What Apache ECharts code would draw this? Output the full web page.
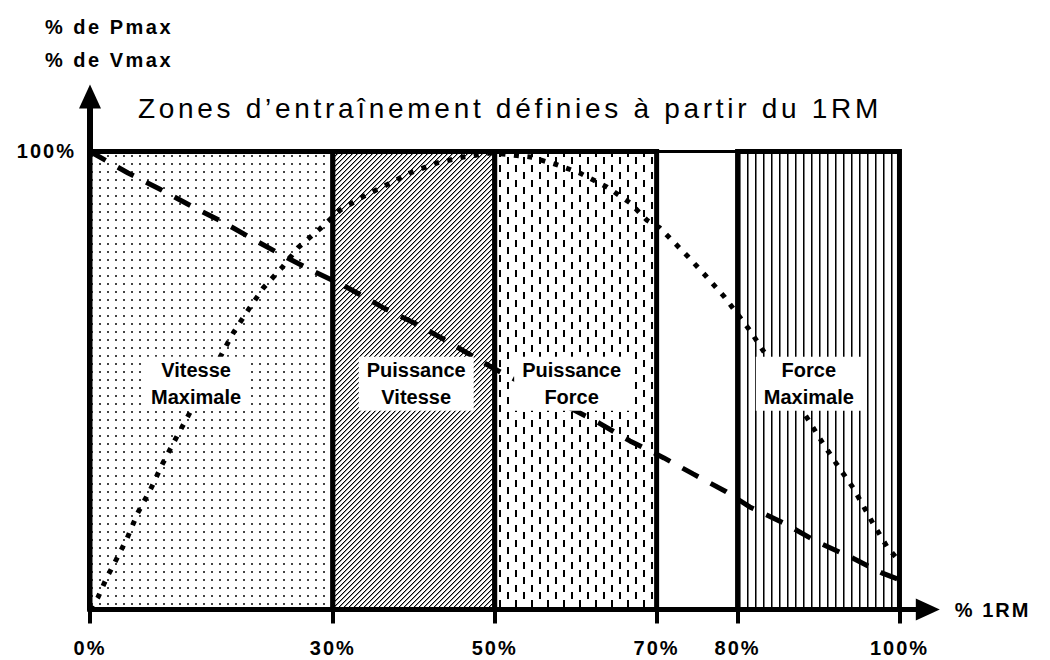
<!DOCTYPE html>
<html>
<head>
<meta charset="utf-8">
<script src="https://cdn.jsdelivr.net/npm/echarts@6/dist/echarts.min.js"></script>
<style>
html,body{margin:0;padding:0;background:#fff;}
#chart{width:1050px;height:660px;}
</style>
</head>
<body>
<div id="chart"></div>
<script>
// ---------- data ----------
const xTickValues = [0, 30, 50, 70, 80, 100];
const yTickValues = [100];
const zoneStart = [0, 30, 50, 80];
const zoneEnd = [30, 50, 70, 100];
const zoneTop = 100;
const zoneLabels = ['Vitesse\nMaximale', 'Puissance\nVitesse', 'Puissance\nForce', 'Force\nMaximale'];
const labelX = [13.1, 40.3, 59.5, 88.8];
const labelY = [49.3, 49.3, 49.3, 49.3];

// % de Vmax (dashed curve)
const velocityX = [0, 4.7, 8.6, 12.7, 16.4, 20.1, 24.1, 28.0, 31.9, 36.1, 40.0, 43.6, 50.0, 62.9, 66.7, 70.9, 74.5, 78.6, 81.5, 86.1, 89.9, 93.9, 97.8, 100];
const velocityY = [100, 95.3, 91.8, 87.9, 84.6, 80.9, 77.0, 73.5, 70.2, 66.0, 62.6, 59.1, 52.5, 40.7, 36.8, 33.1, 29.6, 25.7, 22.4, 18.5, 14.7, 11.5, 8.0, 6.5];

// % de Pmax (dotted curve)
const powerX = [0, 1.0, 2.1, 3.1, 4.6, 5.9, 7.5, 8.9, 10.5, 12.1, 16.9, 17.7, 19.4, 21.4, 23.7, 25.7, 28.4, 30.9, 33.7, 37.1, 39.5, 42.9, 46.1, 49.7, 54.4, 57.7, 60.5, 63.9, 66.7, 68.8, 70.4, 73.9, 76.2, 78.4, 81.5, 88.6, 90.5, 92.3, 94.3, 96.7, 98.5, 100];
const powerY = [0, 2.7, 7.1, 10.4, 15.6, 21.1, 26.3, 31.6, 37.0, 42.2, 57.8, 60.4, 65.0, 70.2, 74.6, 79.0, 83.1, 87.2, 90.1, 93.1, 95.3, 97.5, 98.8, 99.7, 98.8, 97.1, 95.3, 92.2, 88.8, 85.0, 83.3, 77.0, 72.6, 68.2, 61.0, 41.8, 36.4, 31.6, 26.5, 18.9, 13.6, 10.5];

// ---------- fill patterns ----------
function makeTile(w, h, draw) {
  const c = document.createElement('canvas');
  c.width = w; c.height = h;
  const ctx = c.getContext('2d');
  ctx.fillStyle = '#fff'; ctx.fillRect(0, 0, w, h);
  draw(ctx);
  return c;
}
const dotTile = makeTile(8, 8, ctx => {
  ctx.fillStyle = '#444'; ctx.fillRect(3, 3, 2, 2);
});
const hatchTile = makeTile(5, 5, ctx => {
  for (let i = 0; i < 5; i++) for (let j = 0; j < 5; j++) {
    const k = (i + j) % 5;
    if (k === 0) { ctx.fillStyle = '#000'; ctx.fillRect(i, j, 1, 1); }
    else if (k === 1) { ctx.fillStyle = '#999'; ctx.fillRect(i, j, 1, 1); }
  }
});
const dashTile = makeTile(16, 15, ctx => {
  ctx.fillStyle = '#000';
  ctx.fillRect(3, 0, 2, 7);
  ctx.fillRect(11, 7, 2, 7);
});
const lineTile = makeTile(8, 4, ctx => {
  ctx.fillStyle = '#000'; ctx.fillRect(3, 0, 1, 4);
  ctx.fillStyle = '#777'; ctx.fillRect(4, 0, 1, 4);
});
const zonePatterns = [dotTile, hatchTile, dashTile, lineTile];

// ---------- chart ----------
const chart = echarts.init(document.getElementById('chart'), null, { renderer: 'svg' });
const FONT = 'Liberation Sans, Arial, sans-serif';

const option = {
  animation: false,
  backgroundColor: '#fff',
  title: [
    {
      text: 'Zones d\u2019entra\u00eenement d\u00e9finies \u00e0 partir du 1RM',
      left: 133, top: 89,
      textStyle: { fontFamily: FONT, fontWeight: 'normal', fontSize: 28, color: '#000' }
    },
    {
      text: '% de Pmax\n% de Vmax',
      left: 40, top: 5,
      textStyle: { fontFamily: FONT, fontWeight: 'bold', fontSize: 20, lineHeight: 33, color: '#000' }
    }
  ],
  grid: { left: 90, right: 122.2, top: 96.5, bottom: 50.5, outerBoundsMode: 'none' },
  xAxis: {
    type: 'value', min: 0, max: 103.5,
    name: '% 1RM', nameLocation: 'end', nameGap: 27,
    nameTextStyle: { fontFamily: FONT, fontWeight: 'bold', fontSize: 20, color: '#000' },
    axisLine: { show: true, symbol: ['none', 'triangle'], symbolSize: [22, 24], lineStyle: { color: '#000', width: 5 } },
    axisTick: { show: true, customValues: xTickValues, length: 14, lineStyle: { color: '#000', width: 4 } },
    axisLabel: { customValues: xTickValues, formatter: v => v + '%', margin: 28, fontFamily: FONT, fontWeight: 'bold', fontSize: 20, color: '#000' },
    splitLine: { show: false }
  },
  yAxis: {
    type: 'value', min: 0, max: 112,
    axisLine: { show: true, symbol: ['none', 'triangle'], symbolSize: [22, 24], lineStyle: { color: '#000', width: 6 } },
    axisTick: { show: false },
    axisLabel: { customValues: yTickValues, formatter: v => v + '%', margin: 14, fontFamily: FONT, fontWeight: 'bold', fontSize: 20, color: '#000' },
    splitLine: { show: false }
  },
  series: [
    {
      type: 'custom',
      z: 1,
      silent: true,
      data: zoneStart.map((s, i) => [s, zoneEnd[i], zoneTop, i]),
      renderItem: (params, api) => {
        const p0 = api.coord([api.value(0), 0]);
        const p1 = api.coord([api.value(1), api.value(2)]);
        return {
          type: 'rect',
          shape: { x: p0[0], y: p1[1], width: p1[0] - p0[0], height: p0[1] - p1[1] },
          style: {
            fill: { image: zonePatterns[api.value(3)], repeat: 'repeat' },
            stroke: '#000', lineWidth: 5
          }
        };
      }
    },
    {
      type: 'line',
      z: 2,
      silent: true,
      data: [],
      markLine: {
        silent: true, symbol: 'none', label: { show: false },
        lineStyle: { color: '#000', width: 3, type: 'solid' },
        data: [[{ coord: [0, zoneTop] }, { coord: [100, zoneTop] }]]
      }
    },
    {
      name: '% de Vmax',
      type: 'line', z: 3, silent: true, showSymbol: false, smooth: false,
      data: velocityX.map((x, i) => [x, velocityY[i]]),
      lineStyle: { color: '#000', width: 5, type: [18, 14], cap: 'butt' }
    },
    {
      name: '% de Pmax',
      type: 'line', z: 3, silent: true, showSymbol: false, smooth: false,
      data: powerX.map((x, i) => [x, powerY[i]]),
      lineStyle: { color: '#000', width: 5, type: [5, 8.5], cap: 'butt' }
    },
    {
      type: 'custom', z: 5, silent: true,
      data: zoneLabels.map((t, i) => [labelX[i], labelY[i], i]),
      renderItem: (params, api) => {
        const p = api.coord([api.value(0), api.value(1)]);
        return {
          type: 'text',
          x: p[0], y: p[1],
          style: {
            text: zoneLabels[api.value(2)],
            align: 'center', verticalAlign: 'middle',
            fontFamily: FONT, fontWeight: 'bold', fontSize: 20, lineHeight: 27,
            fill: '#000', backgroundColor: '#fff', padding: [0, 8]
          }
        };
      }
    }
  ]
};
chart.setOption(option);

// letter spacing to mimic the wide bitmap lettering of the original
function spaceText() {
  const texts = document.querySelectorAll('#chart text');
  texts.forEach(t => {
    const s = t.textContent || '';
    if (s.indexOf('Zones') === 0) t.style.letterSpacing = '3.7px';
    else if (s.indexOf('% de') === 0) t.style.letterSpacing = '2.5px';
    else if (/^\d+%$/.test(s) || s === '% 1RM') t.style.letterSpacing = '2px';
  });
}
spaceText();
chart.on('finished', spaceText);
</script>
</body>
</html>
